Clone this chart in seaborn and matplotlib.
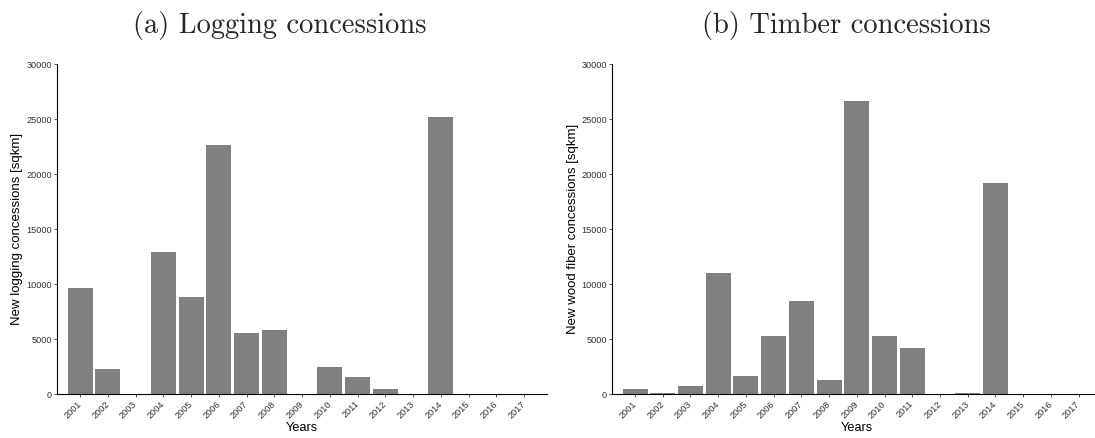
import matplotlib
matplotlib.use("Agg")
import matplotlib.pyplot as plt
import seaborn as sns
import pandas as pd

years = [str(y) for y in range(2001, 2018)]
logging_values = [9660, 2300, 0, 12940, 8850, 22670, 5570, 5850, 0,
                  2480, 1570, 480, 0, 25210, 0, 0, 0]
timber_values = [480, 110, 780, 11030, 1660, 5300, 8480, 1300, 26670,
                 5300, 4210, 0, 110, 19210, 0, 0, 0]
yticks = [0, 5000, 10000, 15000, 20000, 25000, 30000]
titles = ["(a) Logging concessions", "(b) Timber concessions"]
ylabels = ["New logging concessions [sqkm]", "New wood fiber concessions [sqkm]"]
xlabel = "Years"

sns.set_style("ticks")
plt.rcParams["font.family"] = ["Liberation Sans", "DejaVu Sans"]

W, H = 1095, 438
fig = plt.figure(figsize=(W / 100, H / 100), dpi=100)

def px_axes(x0, x1, ytop, ybot):
    return [x0 / W, (H - ybot) / H, (x1 - x0) / W, (ybot - ytop) / H]

axes = [fig.add_axes(px_axes(57.3, 546.7, 64.3, 394.3)),
        fig.add_axes(px_axes(612.3, 1101.0, 64.3, 394.3))]

series = [logging_values, timber_values]
ylabel_x = [17, 573]
x0s = [57.3, 612.3]
for ax, vals, yl, lx, x0 in zip(axes, series, ylabels, ylabel_x, x0s):
    df = pd.DataFrame({"year": years, "value": vals})
    sns.barplot(data=df, x="year", y="value", color="#808080", saturation=1,
                width=0.9, linewidth=0, ax=ax, errorbar=None)
    ax.set_xlim(-0.82, 16.81)
    ax.set_ylim(0, 30000)
    ax.set_yticks(yticks)
    ax.set_yticklabels([str(t) for t in yticks])
    sns.despine(ax=ax)
    for s in ["left", "bottom"]:
        ax.spines[s].set_linewidth(0.8)
        ax.spines[s].set_color("black")
    ax.tick_params(axis="both", length=2.5, width=0.6, color="#333333",
                   labelsize=6.6, labelcolor="#333333", pad=1.5)
    for lab in ax.get_xticklabels():
        lab.set_rotation(45)
        lab.set_ha("right")
        lab.set_va("center")
        lab.set_rotation_mode("anchor")
    ax.tick_params(axis="x", pad=3.5)
    ax.set_xlabel(xlabel, fontsize=9.2, color="black", va="center")
    ax.set_ylabel(yl, fontsize=9.5, color="black", va="center")
    ax.xaxis.set_label_coords(0.5, (394.3 - 428) / 330)
    ax.yaxis.set_label_coords((lx - x0) / 489.4, 0.5)

fig.text(279.5 / W, 1 - 25 / H, titles[0], family="cmr10", fontsize=20.5,
         ha="center", va="center")
fig.text(846 / W, 1 - 25 / H, titles[1], family="cmr10", fontsize=20.5,
         ha="center", va="center")

fig.savefig("out.png", dpi=100)
